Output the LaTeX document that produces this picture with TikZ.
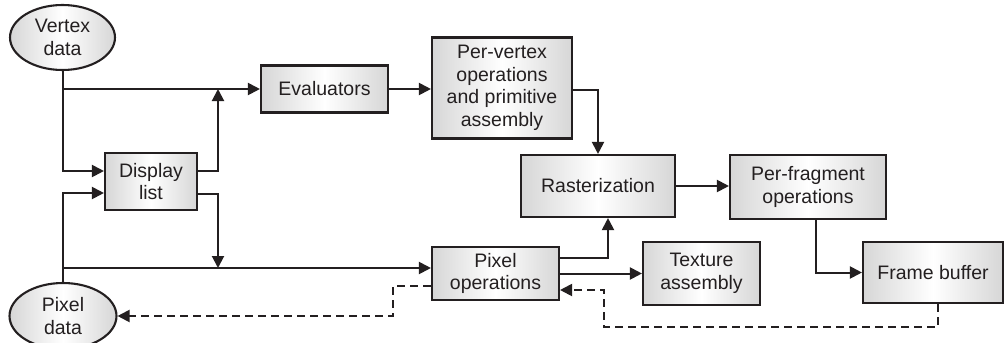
\documentclass[tikz,border=0pt]{standalone}
\usepackage{fontspec}
\setmainfont{Liberation Sans}
\usetikzlibrary{arrows.meta,shapes.geometric}
\definecolor{ink}{HTML}{231F20}

\begin{document}
\begin{tikzpicture}[x=1pt,y=-1pt,
  blk/.style={draw=ink, line width=2.1pt, left color=gray!32, right color=gray!32,
    middle color=white, align=center, inner sep=0pt, text=ink,
    font=\fontsize{19.5}{22.5}\selectfont},
  src/.style={blk, ellipse},
  conn/.style={draw=ink, line width=2pt, -{Triangle[length=12pt,width=12pt]}},
  back/.style={conn, dash pattern=on 8pt off 5pt}]
				%
				% macro: box name, centre x, centre y, width, height, text
				\newcommand{\blkat}[6]{
				  \node[blk, minimum width=#4pt, minimum height=#5pt] (#1) at (#2,#3) {#6};
				}
				%
				\useasboundingbox (0,0) rectangle (1005,343);
				\node[src, minimum width=105pt, minimum height=65pt] (vtx) at (62.5,37.5) {Vertex\\data};
				\node[src, minimum width=107pt, minimum height=66pt] (pix) at (63,316) {Pixel\\data};
				\blkat{dl}{151}{181.5}{92}{57}{Display\\list}
				\blkat{ev}{324.5}{89}{127}{47}{Evaluators}
				\blkat{pv}{502}{88}{140}{101}{Per-vertex\\operations\\and primitive\\assembly}
				\blkat{rast}{598}{186}{154}{62}{Rasterization}
				\blkat{pf}{808}{187}{156}{64}{Per-fragment\\operations}
				\blkat{po}{495.5}{273.5}{127}{53}{Pixel\\operations}
				\blkat{tex}{701.5}{273.5}{117}{63}{Texture\\assembly}
				\blkat{fb}{933}{272.5}{140}{61}{Frame buffer}
				%
				\coordinate (up) at (218,89);
				\coordinate (dn) at (218,268);
				\coordinate (turn) at (604,327);
				\coordinate (turnl) at (393,316);
				%
				\draw[conn] (vtx.south) |- (ev.west);
				\draw[conn] (vtx.south) |- ([yshift=10.5pt]dl.west);
				\draw[conn] (pix.north) |- ([yshift=-11.5pt]dl.west);
				\draw[conn] (pix.north) |- ([yshift=5.5pt]po.west);
				\draw[conn] ([yshift=10.5pt]dl.east) -| (up);
				\draw[conn] ([yshift=-12.5pt]dl.east) -| (dn);
				\draw[conn] (ev.east) -- (ev.east -| pv.west);
				\draw[conn] ([yshift=-2pt]pv.east) -| (rast.north);
				\draw[conn] (rast.east) -- (rast.east -| pf.west);
				\draw[conn] ([xshift=8pt]pf.south) |- (fb.west);
				\draw[conn] ([yshift=15.5pt]po.east) -| ([xshift=10pt]rast.south);
				\draw[conn] (po.east) -- (tex.west);
				%
				\draw[back] ([xshift=5pt]fb.south) |- (turn) |- ([yshift=-16.5pt]po.east);
				\draw[back] ([yshift=-12.5pt]po.west) -| (turnl) -- (pix.east);
			\end{tikzpicture}
\end{document}
